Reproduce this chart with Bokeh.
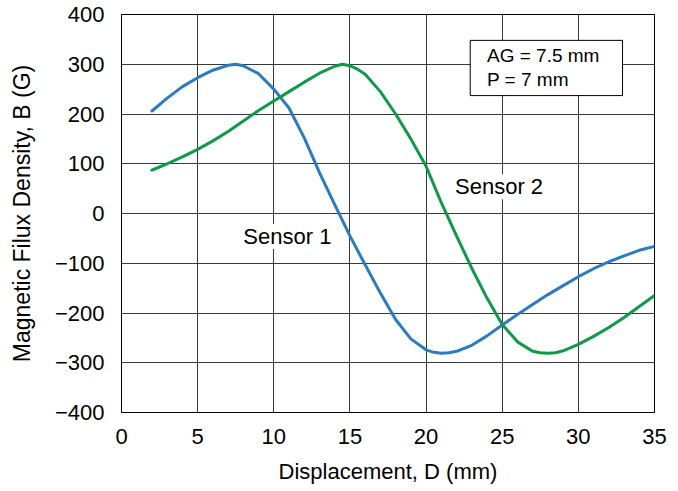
from bokeh.plotting import figure
from bokeh.models import FixedTicker, Label, BoxAnnotation, Range1d
from bokeh.embed import file_html
from bokeh.resources import INLINE

# Sensor 1 (blue)
s1_x = [2, 3, 4, 5, 6, 7, 7.5, 8, 9, 10, 11, 12, 13, 14, 15, 16, 17, 18, 19, 20,
        20.5, 21, 21.5, 22, 23, 24, 25, 26, 27, 28, 29, 30, 31, 32, 33, 34, 35]
s1_y = [206, 232, 255, 273, 288, 298, 300, 297, 281, 250, 212, 152, 82, 18, -45, -103, -160, -213, -252, -274,
        -279, -281, -280, -277, -265, -246, -224, -203, -183, -163, -145, -127, -111, -97, -85, -74, -66]

# Sensor 2 (green)
s2_x = [2, 3, 4, 5, 6, 7, 8, 9, 10, 11, 12, 13, 14, 14.5, 15, 15.5, 16, 17, 18, 19, 20,
        21, 22, 23, 24, 25, 26, 27, 27.5, 28, 28.5, 29, 30, 31, 32, 33, 34, 35]
s2_y = [87, 100, 114, 129, 146, 165, 186, 207, 226, 245, 264, 282, 296, 300, 297, 290, 280, 245, 200, 150, 95,
        22, -45, -110, -170, -223, -258, -277, -280, -281, -280, -276, -263, -247, -229, -209, -187, -165]

x_ticks = [0, 5, 10, 15, 20, 25, 30, 35]
y_ticks = [-400, -300, -200, -100, 0, 100, 200, 300, 400]
y_tick_labels = ["\u2212400", "\u2212300", "\u2212200", "\u2212100", "0", "100", "200", "300", "400"]

FONT = "Liberation Sans"

p = figure(width=672, height=486, output_backend="svg", toolbar_location=None,
           x_range=Range1d(0, 35), y_range=Range1d(-400, 400),
           min_border_left=121, min_border_right=18, min_border_top=14, min_border_bottom=73)

p.outline_line_color = "black"
p.outline_line_width = 1
p.background_fill_color = "white"

for ax in (p.xaxis[0], p.yaxis[0]):
    ax.major_tick_line_color = None
    ax.minor_tick_line_color = None
    ax.axis_line_color = "black"
    ax.major_label_text_font = FONT
    ax.major_label_text_font_size = "22px"
    ax.major_label_text_color = "black"
    ax.axis_label_text_font = FONT
    ax.axis_label_text_font_style = "normal"
    ax.axis_label_text_color = "black"

p.xaxis.ticker = FixedTicker(ticks=x_ticks)
p.yaxis.ticker = FixedTicker(ticks=y_ticks)
p.yaxis.major_label_overrides = {t: l for t, l in zip(y_ticks, y_tick_labels)}
p.xaxis.major_label_standoff = 10
p.yaxis.major_label_standoff = 11
p.xaxis.axis_label = "Displacement, D (mm)"
p.yaxis.axis_label = "Magnetic Filux Density, B (G)"
p.xaxis.axis_label_text_font_size = "22px"
p.yaxis.axis_label_text_font_size = "23px"
p.xaxis.axis_label_standoff = 12
p.yaxis.axis_label_standoff = 17

p.xgrid.ticker = FixedTicker(ticks=x_ticks)
p.ygrid.ticker = FixedTicker(ticks=y_ticks)
for g in (p.xgrid[0], p.ygrid[0]):
    g.grid_line_color = "#3a3a3a"
    g.grid_line_width = 1
    g.grid_line_alpha = 1.0

p.line(s1_x, s1_y, line_color="#2a7bc1", line_width=3, line_join="round", line_cap="round")
p.line(s2_x, s2_y, line_color="#0e9a48", line_width=3, line_join="round", line_cap="round")

p.add_layout(Label(x=8.0, y=-46, text="Sensor 1", text_font=FONT, text_font_size="22px",
                   text_color="black", text_baseline="middle",
                   background_fill_color="white", background_fill_alpha=1.0))
p.add_layout(Label(x=21.9, y=54, text="Sensor 2", text_font=FONT, text_font_size="22px",
                   text_color="black", text_baseline="middle",
                   background_fill_color="white", background_fill_alpha=1.0))

p.add_layout(BoxAnnotation(left=22.9, right=32.9, bottom=237, top=348,
                           fill_color="white", fill_alpha=1.0,
                           line_color="black", line_width=1, line_alpha=1.0))
p.add_layout(Label(x=24.0, y=318, text="AG = 7.5 mm", text_font=FONT, text_font_size="19px",
                   text_color="black", text_baseline="middle"))
p.add_layout(Label(x=24.0, y=270, text="P = 7 mm", text_font=FONT, text_font_size="19px",
                   text_color="black", text_baseline="middle"))

open("out.html", "w").write(file_html(p, INLINE))
